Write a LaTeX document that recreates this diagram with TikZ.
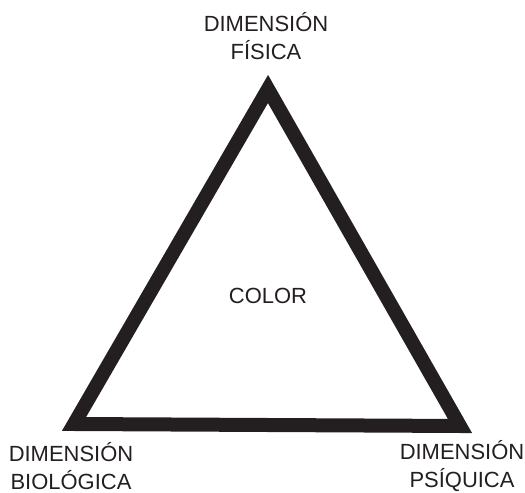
\documentclass[tikz,border=0pt]{standalone}
\usepackage{fontspec}
\setmainfont{Liberation Sans}
\usepackage{tikz}
\usetikzlibrary{positioning}
\definecolor{tinta}{HTML}{231F20}

\begin{document}
\begin{tikzpicture}[x=0.02cm,y=-0.02cm,
  etiqueta/.style={text=tinta,font=\fontsize{12.5}{14}\selectfont,align=center,inner sep=0pt}]
\useasboundingbox (0,0) rectangle (525,493);
\coordinate (arriba) at (268,89);
\coordinate (izq) at (74,424);
\coordinate (der) at (460,426);
\draw[tinta,line width=14*0.02cm,line join=miter] (arriba)--(der)--(izq)--cycle;
\node[etiqueta] (fisica) at (266,36) {DIMENSIÓN\\[2pt]FÍSICA};
\node[etiqueta] (biologica) at (71,466) {DIMENSIÓN\\[2pt]BIOLÓGICA};
\node[etiqueta] (psiquica) at (462,466) {DIMENSIÓN\\[2pt]PSÍQUICA};
\node[etiqueta] (color) at (268,296) {COLOR};
\end{tikzpicture}
\end{document}
